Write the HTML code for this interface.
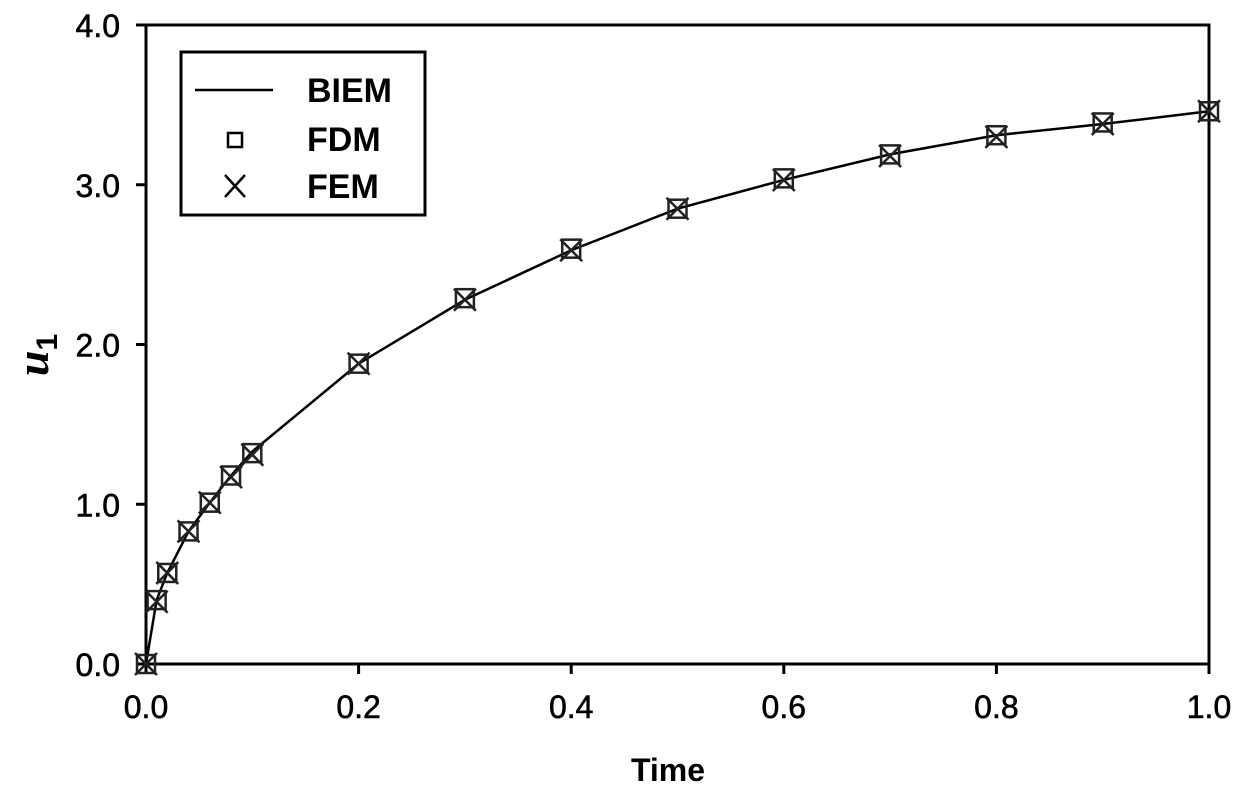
<!DOCTYPE html>
<html><head><meta charset="utf-8"><style>
body{margin:0;background:#fff;}
svg text{font-family:"Liberation Sans",Arial,sans-serif;}
</style></head><body>
<svg width="1245" height="791" viewBox="0 0 1245 791">
<g id="axes"></g>
<g id="marks"></g>
<g>
<rect x="181" y="52" width="244" height="163" fill="#fff" stroke="#000" stroke-width="3"/>
<line x1="195" y1="90" x2="273" y2="90" stroke="#000" stroke-width="2.5"/>
<text x="307" y="102" font-size="34" font-weight="bold">BIEM</text>
<rect x="228" y="133" width="14" height="14" fill="none" stroke="#000" stroke-width="2.5"/>
<text x="307" y="151" font-size="34" font-weight="bold">FDM</text>
<path d="M225 175 L245 197 M245 175 L225 197" stroke="#000" stroke-width="2.5"/>
<text x="307" y="198" font-size="34" font-weight="bold">FEM</text>
</g>
<text x="668" y="781" font-size="32" font-weight="bold" text-anchor="middle">Time</text>
<text transform="translate(48,355) rotate(-90)" font-size="46" font-weight="bold" font-style="italic" text-anchor="middle" style="font-family:'Liberation Serif',serif">u<tspan font-size="30" dy="9" font-style="normal" style="font-family:'Liberation Sans',sans-serif">1</tspan></text>
</svg>
<script>
const times=[0,0.01,0.02,0.04,0.06,0.08,0.1,0.2,0.3,0.4,0.5,0.6,0.7,0.8,0.9,1.0];
const biem=[0,0.40,0.57,0.83,1.01,1.18,1.33,1.88,2.28,2.59,2.85,3.03,3.19,3.31,3.38,3.46];
const fdm=[0,0.40,0.57,0.83,1.01,1.18,1.32,1.88,2.29,2.60,2.85,3.04,3.19,3.31,3.39,3.46];
const fem=[0,0.39,0.57,0.83,1.01,1.17,1.31,1.88,2.28,2.59,2.85,3.03,3.18,3.30,3.38,3.46];
const xTicks=["0.0","0.2","0.4","0.6","0.8","1.0"];
const yTicks=["0.0","1.0","2.0","3.0","4.0"];
const NS="http://www.w3.org/2000/svg";
const X=v=>146+v*1063, Y=v=>664-v*159.75;
function mk(tag,at,parent){const e=document.createElementNS(NS,tag);for(const k in at)e.setAttribute(k,at[k]);parent.appendChild(e);return e;}
const ax=document.getElementById('axes'), mg=document.getElementById('marks');
const frame=mk('rect',{x:146,y:25,width:1063,height:639,fill:'none',stroke:'#000','stroke-width':3},ax);


xTicks.forEach(t=>{const v=parseFloat(t);
 const l=mk('line',{x1:X(v),x2:X(v),y1:664,y2:674,stroke:'#000','stroke-width':3},ax);
 
 
 const tx=mk('text',{x:X(v),y:718,'font-size':32,'text-anchor':'middle',stroke:'#000','stroke-width':0.6},ax);tx.textContent=t;
 
 });
yTicks.forEach(t=>{const v=parseFloat(t);
 const l=mk('line',{x1:136,x2:146,y1:Y(v),y2:Y(v),stroke:'#000','stroke-width':3},ax);
 
 
 const tx=mk('text',{x:120,y:Y(v)+12,'font-size':32,'text-anchor':'end',stroke:'#000','stroke-width':0.6},ax);tx.textContent=t;
 
 });
const line=mk('polyline',{points:times.map((t,i)=>X(t)+','+Y(biem[i])).join(' '),fill:'none',stroke:'#000','stroke-width':2.5},mg);


times.forEach((t,i)=>{
 const s=mk('rect',{x:X(t)-9,y:Y(fdm[i])-9,width:18,height:18,fill:'none',stroke:'#222','stroke-width':2.5},mg);
 
 
 const x=X(t),y=Y(fem[i]);
 const c=mk('path',{d:`M${x-11} ${y-11}L${x+11} ${y+11}M${x+11} ${y-11}L${x-11} ${y+11}`,stroke:'#222','stroke-width':2.5},mg);
 
 
});
</script>
</body></html>
